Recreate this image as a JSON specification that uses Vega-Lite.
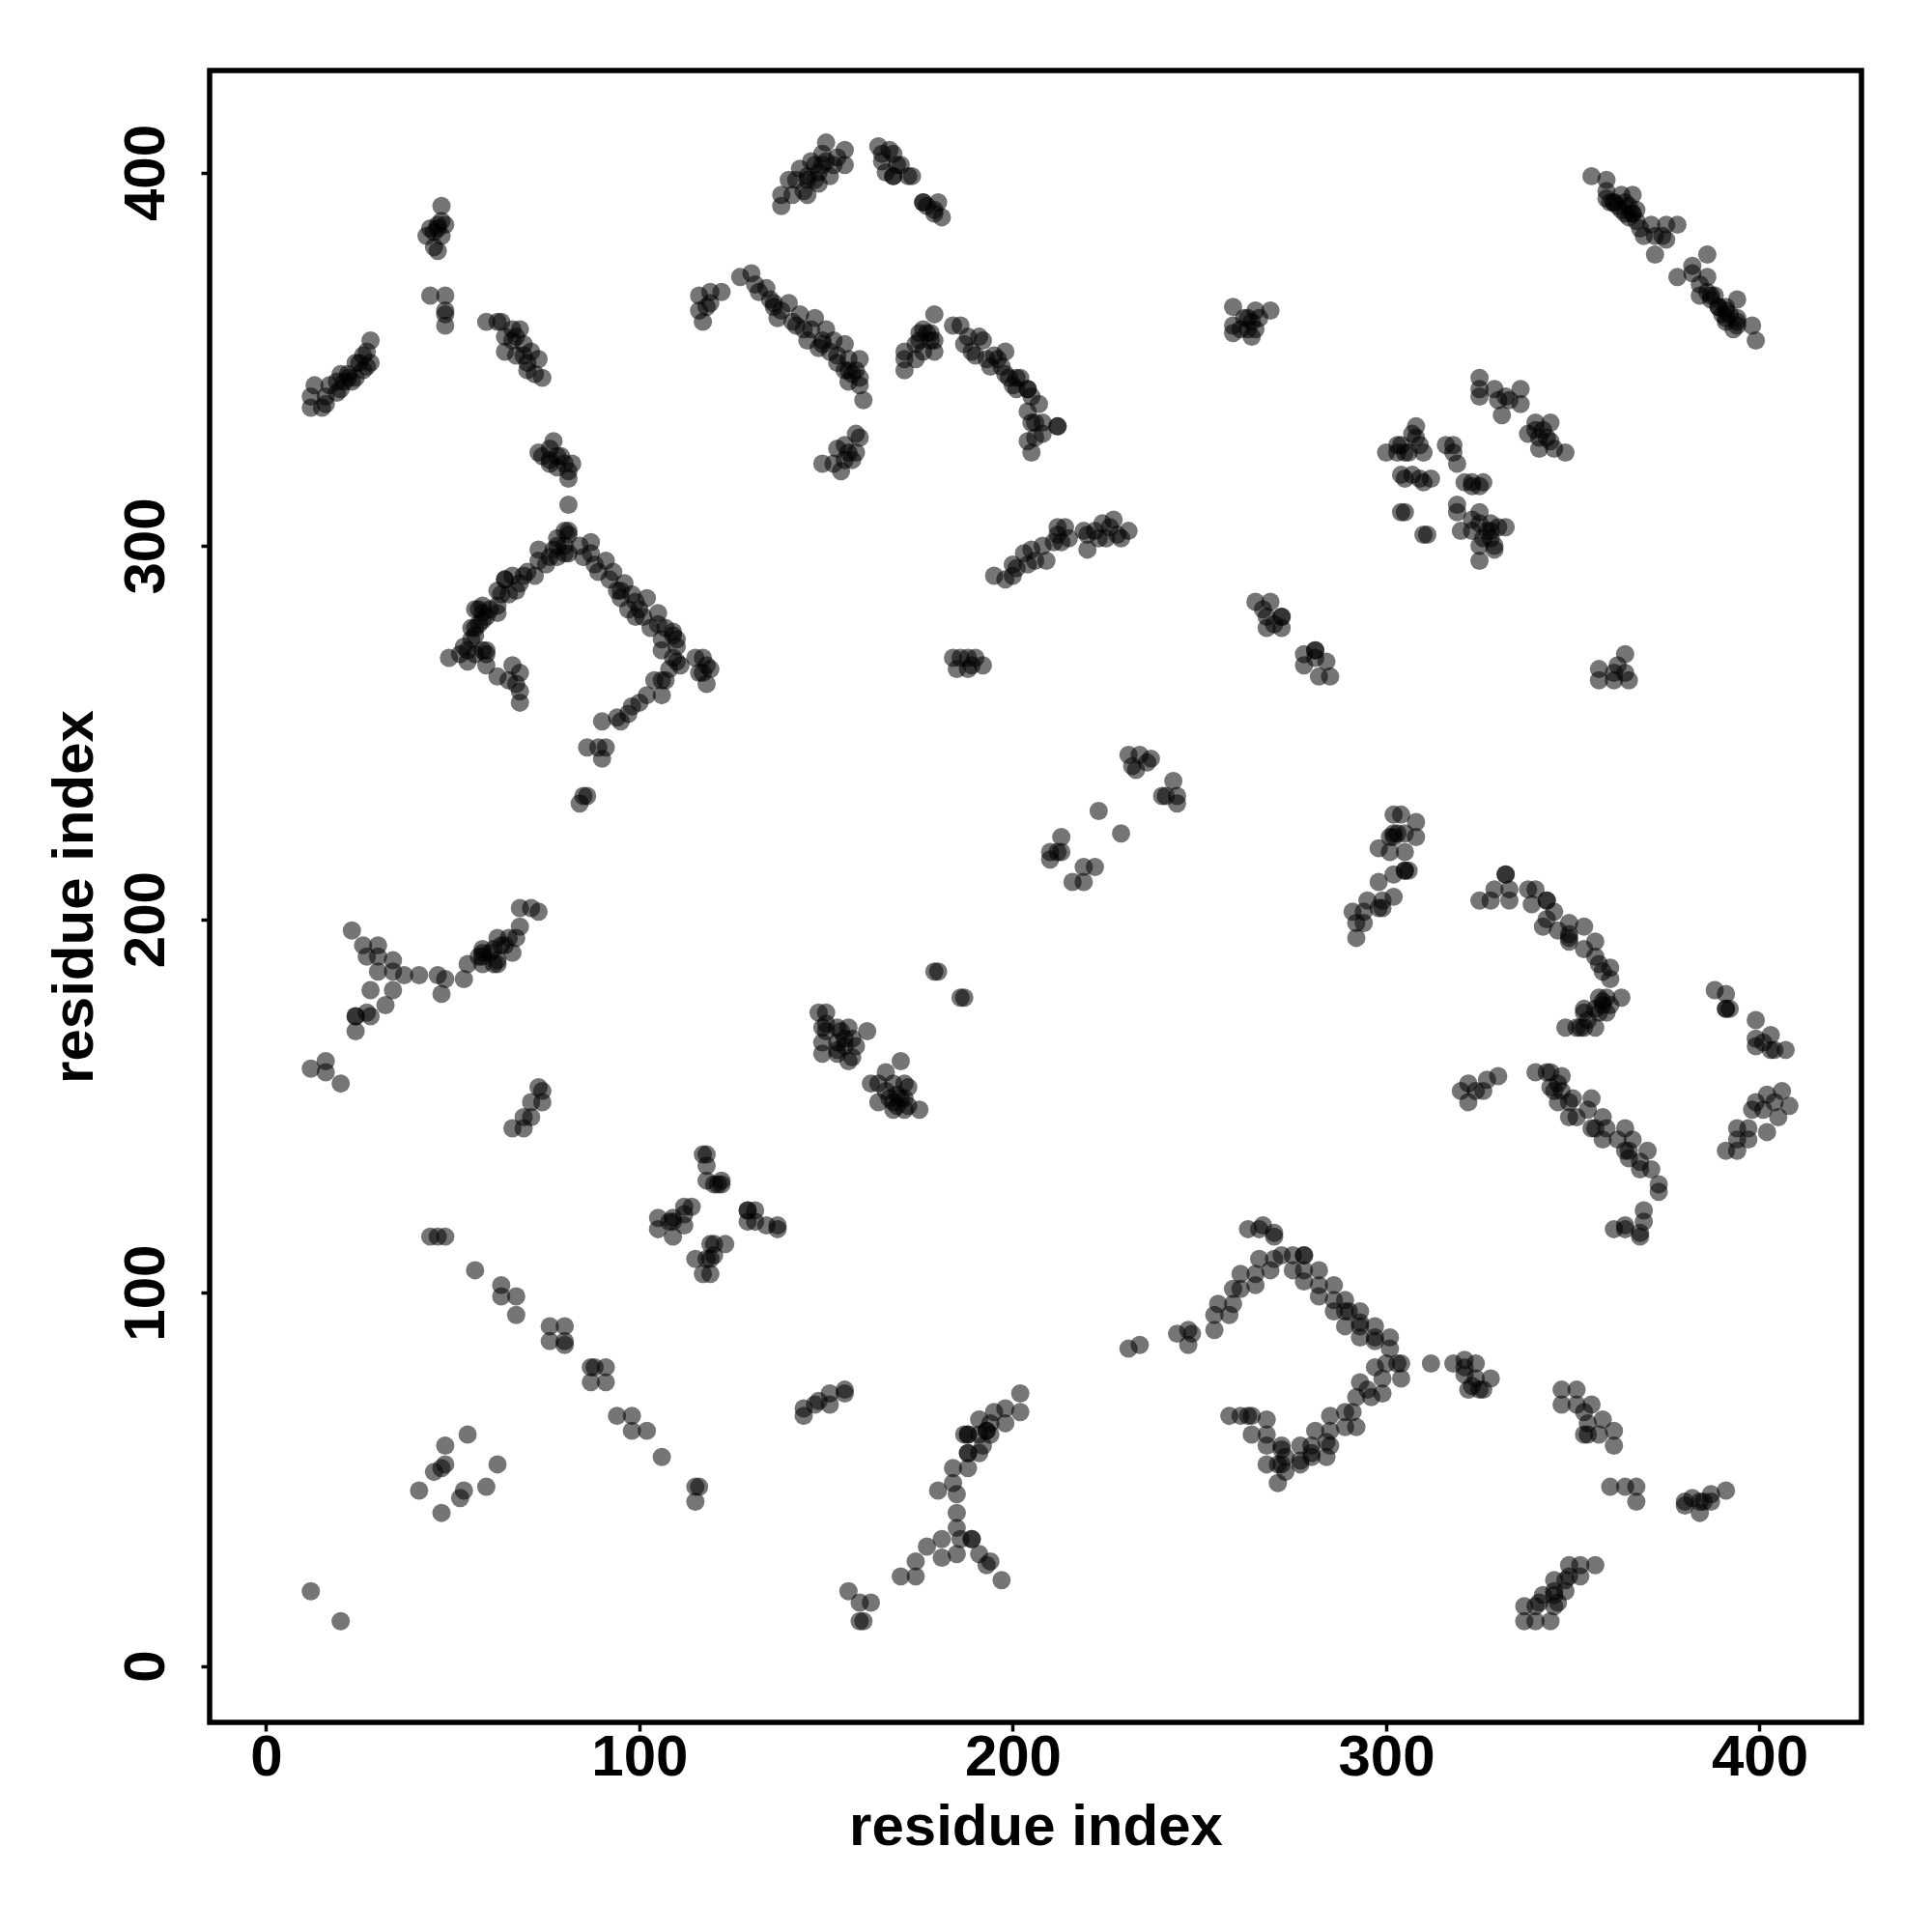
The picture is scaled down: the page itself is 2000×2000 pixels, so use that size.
{"$schema":"https://vega.github.io/schema/vega-lite/v6.json","width":1710,"height":1710,"autosize":{"type":"none"},"padding":{"left":217,"top":73,"right":73,"bottom":217},"background":"white","view":{"stroke":"black","strokeWidth":5.5},"config":{"font":"Liberation Sans"},
"data":{"values":[
{"x":12,"y":337},{"x":12,"y":340},{"x":13,"y":343},{"x":15,"y":337},{"x":16,"y":338},{"x":16,"y":340},{"x":17,"y":343},{"x":19,"y":341},{"x":20,"y":342},{"x":21,"y":344},{"x":22,"y":346},{"x":20,"y":346},{"x":23,"y":344},{"x":24,"y":345},{"x":25,"y":349},{"x":26,"y":347},{"x":27,"y":348},{"x":27,"y":352},{"x":28,"y":355},{"x":28,"y":349},{"x":24,"y":349},{"x":26,"y":351},
{"x":43,"y":383},{"x":45,"y":380},{"x":46,"y":379},{"x":45,"y":384},{"x":46,"y":386},{"x":46,"y":385},{"x":47,"y":387},{"x":48,"y":386},{"x":47,"y":391},{"x":44,"y":385},{"x":47,"y":383},
{"x":44,"y":367},{"x":48,"y":367},{"x":48,"y":363},{"x":48,"y":359},{"x":48,"y":362},
{"x":59,"y":360},{"x":62,"y":360},{"x":63,"y":360},{"x":64,"y":352},{"x":64,"y":356},{"x":66,"y":355},{"x":67,"y":351},{"x":67,"y":356},{"x":68,"y":358},{"x":69,"y":354},{"x":70,"y":349},{"x":70,"y":347},{"x":71,"y":352},{"x":72,"y":346},{"x":73,"y":350},{"x":74,"y":345},{"x":69,"y":351},{"x":66,"y":358},
{"x":73,"y":325},{"x":74,"y":324},{"x":76,"y":326},{"x":77,"y":328},{"x":76,"y":323},{"x":78,"y":321},{"x":79,"y":324},{"x":80,"y":322},{"x":81,"y":320},{"x":81,"y":318},{"x":82,"y":322},{"x":81,"y":311},{"x":78,"y":324},{"x":76,"y":322},
{"x":49,"y":270},{"x":52,"y":271},{"x":53,"y":273},{"x":54,"y":269},{"x":54,"y":272},{"x":55,"y":275},{"x":55,"y":278},{"x":56,"y":276},{"x":56,"y":271},{"x":57,"y":279},{"x":57,"y":283},{"x":58,"y":280},{"x":58,"y":284},{"x":59,"y":281},{"x":59,"y":271},{"x":59,"y":268},{"x":60,"y":283},{"x":62,"y":282},{"x":62,"y":284},{"x":62,"y":265},{"x":63,"y":287},{"x":64,"y":291},{"x":65,"y":287},{"x":65,"y":264},{"x":66,"y":268},{"x":66,"y":292},{"x":67,"y":288},{"x":67,"y":263},{"x":68,"y":290},{"x":68,"y":266},{"x":68,"y":261},{"x":68,"y":258},{"x":69,"y":292},{"x":70,"y":293},{"x":72,"y":292},{"x":73,"y":296},{"x":73,"y":299},{"x":75,"y":295},{"x":76,"y":297},{"x":77,"y":299},{"x":78,"y":302},{"x":78,"y":297},{"x":80,"y":304},{"x":81,"y":298},{"x":81,"y":303},{"x":80,"y":300},{"x":78,"y":300},
{"x":84,"y":300},{"x":85,"y":297},{"x":87,"y":301},{"x":87,"y":298},{"x":88,"y":295},{"x":89,"y":293},{"x":91,"y":296},{"x":92,"y":291},{"x":93,"y":293},{"x":94,"y":288},{"x":95,"y":286},{"x":96,"y":290},{"x":97,"y":283},{"x":98,"y":287},{"x":99,"y":285},{"x":99,"y":281},{"x":101,"y":281},{"x":102,"y":286},{"x":103,"y":278},{"x":105,"y":282},{"x":105,"y":279},{"x":106,"y":275},{"x":106,"y":272},{"x":109,"y":276},{"x":109,"y":277},{"x":110,"y":273},{"x":110,"y":269},
{"x":117,"y":270},{"x":115,"y":270},{"x":118,"y":268},{"x":117,"y":266},{"x":119,"y":267},{"x":118,"y":263},{"x":116,"y":266},{"x":84,"y":231},{"x":85,"y":233},{"x":86,"y":233},{"x":86,"y":246},{"x":90,"y":243},{"x":89,"y":246},{"x":91,"y":246},{"x":90,"y":253},{"x":94,"y":254},{"x":95,"y":253},{"x":97,"y":255},{"x":98,"y":257},{"x":100,"y":258},{"x":102,"y":260},{"x":104,"y":264},{"x":106,"y":260},{"x":106,"y":264},{"x":108,"y":267},{"x":107,"y":264},{"x":111,"y":268},
{"x":138,"y":391},{"x":138,"y":394},{"x":140,"y":398},{"x":141,"y":394},{"x":142,"y":398},{"x":143,"y":401},{"x":144,"y":395},{"x":145,"y":394},{"x":145,"y":399},{"x":146,"y":403},{"x":147,"y":402},{"x":148,"y":400},{"x":149,"y":405},{"x":150,"y":408},{"x":150,"y":403},{"x":151,"y":399},{"x":152,"y":402},{"x":153,"y":404},{"x":155,"y":406},{"x":155,"y":402},{"x":147,"y":398},{"x":148,"y":397},
{"x":164,"y":407},{"x":165,"y":403},{"x":166,"y":400},{"x":165,"y":405},{"x":167,"y":406},{"x":168,"y":399},{"x":169,"y":402},{"x":170,"y":402},{"x":172,"y":399},{"x":168,"y":405},{"x":173,"y":399},{"x":176,"y":392},{"x":177,"y":391},{"x":180,"y":392},{"x":181,"y":388},{"x":179,"y":389},{"x":179,"y":390},
{"x":116,"y":367},{"x":116,"y":363},{"x":117,"y":360},{"x":118,"y":364},{"x":119,"y":368},{"x":119,"y":365},{"x":122,"y":368},{"x":127,"y":372},{"x":130,"y":373},{"x":131,"y":370},{"x":132,"y":368},{"x":134,"y":369},{"x":135,"y":366},{"x":136,"y":364},{"x":137,"y":361},{"x":138,"y":363},{"x":140,"y":365},{"x":141,"y":360},{"x":142,"y":359},{"x":143,"y":362},{"x":145,"y":355},{"x":146,"y":358},{"x":147,"y":361},{"x":148,"y":353},{"x":149,"y":355},{"x":150,"y":358},{"x":151,"y":352},{"x":152,"y":355},{"x":153,"y":349},{"x":155,"y":354},{"x":155,"y":347},{"x":156,"y":350},{"x":157,"y":346},{"x":158,"y":347},{"x":159,"y":350},{"x":159,"y":343},{"x":160,"y":339},{"x":159,"y":345},{"x":156,"y":344},{"x":153,"y":351},
{"x":149,"y":322},{"x":152,"y":322},{"x":153,"y":326},{"x":154,"y":320},{"x":155,"y":327},{"x":156,"y":325},{"x":157,"y":323},{"x":158,"y":325},{"x":159,"y":329},{"x":158,"y":330},{"x":155,"y":323},
{"x":171,"y":347},{"x":171,"y":350},{"x":171,"y":352},{"x":174,"y":350},{"x":174,"y":354},{"x":175,"y":357},{"x":176,"y":352},{"x":177,"y":357},{"x":178,"y":357},{"x":179,"y":355},{"x":179,"y":352},{"x":179,"y":362},{"x":184,"y":359},{"x":186,"y":359},{"x":187,"y":354},{"x":188,"y":356},{"x":189,"y":352},{"x":190,"y":351},{"x":191,"y":356},{"x":192,"y":355},{"x":193,"y":350},{"x":194,"y":348},{"x":195,"y":351},{"x":197,"y":348},{"x":198,"y":352},{"x":198,"y":346},{"x":199,"y":345},{"x":200,"y":343},{"x":201,"y":342},{"x":202,"y":345},{"x":204,"y":342},{"x":205,"y":340},{"x":204,"y":336},{"x":205,"y":333},{"x":204,"y":328},{"x":206,"y":333},{"x":207,"y":338},{"x":208,"y":333},{"x":208,"y":330},{"x":212,"y":332},{"x":205,"y":325},{"x":206,"y":329},
{"x":259,"y":364},{"x":259,"y":357},{"x":259,"y":359},{"x":261,"y":358},{"x":262,"y":361},{"x":263,"y":358},{"x":264,"y":356},{"x":265,"y":363},{"x":265,"y":358},{"x":266,"y":361},{"x":269,"y":363},{"x":263,"y":361},{"x":264,"y":360},
{"x":355,"y":399},{"x":359,"y":398},{"x":359,"y":393},{"x":360,"y":392},{"x":363,"y":394},{"x":364,"y":392},{"x":366,"y":394},{"x":364,"y":389},{"x":367,"y":390},{"x":367,"y":387},{"x":371,"y":386},{"x":368,"y":385},{"x":369,"y":383},{"x":372,"y":383},{"x":375,"y":386},{"x":378,"y":386},{"x":374,"y":383},{"x":372,"y":378},{"x":375,"y":382},{"x":378,"y":372},{"x":382,"y":375},{"x":386,"y":378},{"x":382,"y":373},{"x":384,"y":370},{"x":386,"y":372},{"x":387,"y":367},{"x":387,"y":366},{"x":389,"y":364},{"x":391,"y":364},{"x":394,"y":366},{"x":391,"y":360},{"x":394,"y":361},{"x":394,"y":359},{"x":398,"y":359},{"x":399,"y":355},{"x":384,"y":367},{"x":388,"y":367},{"x":392,"y":362},{"x":361,"y":392},{"x":362,"y":391},{"x":365,"y":388},{"x":366,"y":389},{"x":390,"y":362},{"x":391,"y":361},
{"x":325,"y":345},{"x":325,"y":342},{"x":325,"y":340},{"x":329,"y":342},{"x":330,"y":339},{"x":331,"y":335},{"x":332,"y":340},{"x":333,"y":339},{"x":336,"y":338},{"x":336,"y":342},{"x":338,"y":330},{"x":340,"y":333},{"x":341,"y":329},{"x":341,"y":326},{"x":342,"y":331},{"x":344,"y":333},{"x":344,"y":328},{"x":345,"y":326},{"x":348,"y":325},{"x":340,"y":331},{"x":343,"y":329},
{"x":300,"y":325},{"x":303,"y":325},{"x":304,"y":327},{"x":305,"y":325},{"x":306,"y":325},{"x":307,"y":330},{"x":308,"y":332},{"x":308,"y":329},{"x":309,"y":327},{"x":310,"y":325},{"x":304,"y":319},{"x":305,"y":318},{"x":309,"y":318},{"x":310,"y":317},{"x":307,"y":319},{"x":312,"y":318},{"x":318,"y":327},{"x":319,"y":322},{"x":318,"y":325},{"x":321,"y":317},{"x":323,"y":316},{"x":325,"y":316},{"x":323,"y":317},{"x":326,"y":317},{"x":304,"y":309},{"x":305,"y":309},{"x":310,"y":303},{"x":311,"y":303},{"x":319,"y":311},{"x":319,"y":309},{"x":320,"y":304},{"x":323,"y":304},{"x":325,"y":309},{"x":325,"y":306},{"x":326,"y":302},{"x":327,"y":304},{"x":328,"y":302},{"x":329,"y":300},{"x":325,"y":296},{"x":325,"y":300},{"x":330,"y":305},{"x":332,"y":305},{"x":329,"y":299},{"x":323,"y":307},{"x":328,"y":306},
{"x":195,"y":292},{"x":198,"y":291},{"x":200,"y":292},{"x":200,"y":295},{"x":201,"y":294},{"x":203,"y":298},{"x":204,"y":295},{"x":205,"y":299},{"x":206,"y":296},{"x":208,"y":300},{"x":209,"y":296},{"x":211,"y":301},{"x":212,"y":303},{"x":213,"y":301},{"x":214,"y":305},{"x":215,"y":302},{"x":212,"y":305},{"x":219,"y":304},{"x":220,"y":299},{"x":220,"y":303},{"x":222,"y":304},{"x":223,"y":302},{"x":224,"y":306},{"x":225,"y":302},{"x":227,"y":307},{"x":228,"y":303},{"x":226,"y":305},{"x":229,"y":302},{"x":231,"y":304},
{"x":184,"y":270},{"x":185,"y":267},{"x":186,"y":270},{"x":188,"y":270},{"x":189,"y":268},{"x":192,"y":268},{"x":188,"y":267},{"x":190,"y":270},
{"x":265,"y":285},{"x":269,"y":285},{"x":268,"y":281},{"x":272,"y":281},{"x":272,"y":278},{"x":268,"y":278},{"x":270,"y":279},{"x":267,"y":283},
{"x":278,"y":271},{"x":281,"y":272},{"x":278,"y":268},{"x":281,"y":270},{"x":284,"y":269},{"x":285,"y":265},{"x":282,"y":265},
{"x":357,"y":267},{"x":357,"y":264},{"x":361,"y":264},{"x":361,"y":266},{"x":364,"y":266},{"x":364,"y":271},{"x":365,"y":264},{"x":362,"y":268},
{"x":210,"y":218},{"x":210,"y":216},{"x":213,"y":222},{"x":213,"y":218},{"x":212,"y":218},{"x":216,"y":210},{"x":219,"y":214},{"x":219,"y":210},{"x":222,"y":214},{"x":223,"y":229},{"x":229,"y":223},
{"x":231,"y":244},{"x":234,"y":244},{"x":232,"y":241},{"x":236,"y":242},{"x":237,"y":243},{"x":233,"y":240},{"x":241,"y":233},{"x":243,"y":237},{"x":244,"y":233},{"x":244,"y":231},{"x":240,"y":233},
{"x":292,"y":195},{"x":291,"y":202},{"x":294,"y":199},{"x":292,"y":199},{"x":295,"y":205},{"x":298,"y":203},{"x":299,"y":205},{"x":299,"y":203},{"x":298,"y":210},{"x":302,"y":206},{"x":302,"y":212},{"x":305,"y":213},{"x":298,"y":219},{"x":301,"y":222},{"x":301,"y":218},{"x":305,"y":223},{"x":302,"y":228},{"x":304,"y":228},{"x":308,"y":226},{"x":308,"y":222},{"x":303,"y":223},{"x":305,"y":218},{"x":306,"y":213},
{"x":325,"y":205},{"x":328,"y":205},{"x":332,"y":212},{"x":329,"y":208},{"x":333,"y":205},{"x":333,"y":208},{"x":338,"y":208},{"x":339,"y":204},{"x":343,"y":205},{"x":340,"y":208},{"x":342,"y":198},{"x":343,"y":200},{"x":345,"y":202},{"x":346,"y":197},{"x":349,"y":196},{"x":349,"y":194},{"x":353,"y":198},{"x":349,"y":199},{"x":353,"y":192},{"x":356,"y":194},{"x":356,"y":190},{"x":357,"y":188},{"x":360,"y":187},{"x":360,"y":184},{"x":358,"y":186},
{"x":348,"y":171},{"x":352,"y":171},{"x":356,"y":171},{"x":353,"y":176},{"x":356,"y":176},{"x":357,"y":179},{"x":359,"y":179},{"x":363,"y":179},{"x":359,"y":175},{"x":354,"y":173},{"x":358,"y":178},{"x":357,"y":175},{"x":353,"y":171},
{"x":388,"y":181},{"x":391,"y":180},{"x":392,"y":176},{"x":399,"y":173},{"x":399,"y":168},{"x":399,"y":166},{"x":403,"y":169},{"x":403,"y":165},{"x":407,"y":165},{"x":404,"y":165},{"x":401,"y":167},{"x":391,"y":176},
{"x":391,"y":138},{"x":394,"y":138},{"x":394,"y":144},{"x":397,"y":141},{"x":397,"y":144},{"x":398,"y":149},{"x":402,"y":143},{"x":401,"y":149},{"x":402,"y":153},{"x":405,"y":147},{"x":406,"y":154},{"x":408,"y":150},{"x":404,"y":151},
{"x":320,"y":154},{"x":322,"y":151},{"x":322,"y":156},{"x":326,"y":154},{"x":327,"y":157},{"x":330,"y":158},{"x":324,"y":154},
{"x":340,"y":159},{"x":344,"y":159},{"x":347,"y":158},{"x":344,"y":155},{"x":347,"y":154},{"x":346,"y":151},{"x":349,"y":151},{"x":350,"y":152},{"x":346,"y":156},{"x":351,"y":147},{"x":354,"y":149},{"x":355,"y":152},{"x":355,"y":144},{"x":358,"y":147},{"x":359,"y":144},{"x":358,"y":141},{"x":362,"y":141},{"x":364,"y":144},{"x":364,"y":138},{"x":366,"y":141},{"x":368,"y":133},{"x":370,"y":138},{"x":371,"y":133},{"x":373,"y":129},{"x":373,"y":127},{"x":368,"y":135},{"x":365,"y":136},
{"x":361,"y":117},{"x":364,"y":117},{"x":368,"y":116},{"x":364,"y":118},{"x":369,"y":119},{"x":369,"y":122},{"x":368,"y":115},
{"x":44,"y":115},{"x":46,"y":115},{"x":48,"y":115},{"x":56,"y":106},{"x":63,"y":102},{"x":63,"y":99},{"x":67,"y":99},{"x":67,"y":94},{"x":76,"y":91},{"x":76,"y":87},{"x":80,"y":91},{"x":80,"y":86},{"x":87,"y":80},{"x":87,"y":76},{"x":91,"y":80},{"x":91,"y":76},{"x":94,"y":67},{"x":98,"y":67},{"x":98,"y":63},{"x":102,"y":63},{"x":106,"y":56},{"x":115,"y":48},{"x":115,"y":44},{"x":116,"y":48},{"x":80,"y":87},{"x":88,"y":80},
{"x":12,"y":160},{"x":16,"y":162},{"x":16,"y":159},{"x":20,"y":156},
{"x":23,"y":197},{"x":26,"y":193},{"x":27,"y":190},{"x":30,"y":193},{"x":30,"y":190},{"x":34,"y":189},{"x":34,"y":186},{"x":30,"y":186},{"x":34,"y":181},{"x":28,"y":181},{"x":32,"y":177},{"x":27,"y":175},{"x":24,"y":174},{"x":28,"y":174},{"x":24,"y":170},{"x":37,"y":185},{"x":41,"y":185},{"x":46,"y":185},{"x":47,"y":180},{"x":48,"y":184},{"x":53,"y":184},{"x":54,"y":188},{"x":58,"y":192},{"x":58,"y":188},{"x":62,"y":188},{"x":62,"y":195},{"x":61,"y":192},{"x":66,"y":191},{"x":65,"y":195},{"x":68,"y":198},{"x":67,"y":195},{"x":68,"y":203},{"x":73,"y":202},{"x":71,"y":203},{"x":58,"y":191},{"x":64,"y":193},{"x":57,"y":190},
{"x":66,"y":144},{"x":69,"y":144},{"x":69,"y":147},{"x":71,"y":151},{"x":71,"y":147},{"x":74,"y":151},{"x":74,"y":154},{"x":73,"y":155},
{"x":148,"y":175},{"x":150,"y":175},{"x":149,"y":171},{"x":149,"y":167},{"x":153,"y":171},{"x":153,"y":167},{"x":149,"y":164},{"x":156,"y":171},{"x":155,"y":166},{"x":156,"y":162},{"x":158,"y":166},{"x":161,"y":170},{"x":157,"y":168},{"x":153,"y":164},{"x":162,"y":156},{"x":164,"y":156},{"x":164,"y":151},{"x":166,"y":159},{"x":170,"y":162},{"x":168,"y":151},{"x":168,"y":156},{"x":171,"y":156},{"x":171,"y":152},{"x":168,"y":149},{"x":171,"y":149},{"x":175,"y":149},{"x":169,"y":153},{"x":166,"y":154},{"x":167,"y":152},
{"x":179,"y":186},{"x":180,"y":186},{"x":186,"y":179},{"x":187,"y":179},
{"x":105,"y":120},{"x":105,"y":117},{"x":109,"y":120},{"x":109,"y":115},{"x":112,"y":123},{"x":114,"y":123},{"x":112,"y":118},{"x":109,"y":119},{"x":118,"y":137},{"x":118,"y":134},{"x":118,"y":130},{"x":121,"y":129},{"x":122,"y":129},{"x":115,"y":109},{"x":117,"y":105},{"x":119,"y":105},{"x":120,"y":110},{"x":119,"y":113},{"x":123,"y":113},{"x":119,"y":109},{"x":129,"y":122},{"x":131,"y":122},{"x":129,"y":119},{"x":131,"y":119},{"x":134,"y":118},{"x":137,"y":118},{"x":137,"y":117},
{"x":144,"y":67},{"x":144,"y":69},{"x":147,"y":70},{"x":151,"y":70},{"x":151,"y":73},{"x":155,"y":74},{"x":155,"y":73},{"x":148,"y":71},
{"x":197,"y":23},{"x":194,"y":28},{"x":191,"y":30},{"x":193,"y":27},{"x":189,"y":34},{"x":186,"y":34},{"x":185,"y":30},{"x":181,"y":29},{"x":181,"y":34},{"x":177,"y":32},{"x":174,"y":28},{"x":170,"y":24},{"x":174,"y":24},{"x":185,"y":41},{"x":185,"y":37},{"x":185,"y":46},{"x":180,"y":47},{"x":184,"y":53},{"x":184,"y":49},{"x":188,"y":53},{"x":188,"y":57},{"x":187,"y":62},{"x":191,"y":57},{"x":191,"y":62},{"x":191,"y":66},{"x":194,"y":62},{"x":194,"y":65},{"x":198,"y":65},{"x":195,"y":68},{"x":198,"y":69},{"x":202,"y":68},{"x":202,"y":73},{"x":188,"y":62},{"x":192,"y":59},{"x":193,"y":63},
{"x":156,"y":20},{"x":159,"y":12},{"x":159,"y":17},{"x":162,"y":17},{"x":160,"y":12},
{"x":12,"y":20},{"x":20,"y":12},{"x":41,"y":47},{"x":45,"y":52},{"x":47,"y":53},{"x":48,"y":54},{"x":48,"y":59},{"x":47,"y":41},{"x":52,"y":45},{"x":53,"y":47},{"x":54,"y":62},{"x":59,"y":48},{"x":62,"y":54},
{"x":231,"y":85},{"x":234,"y":86},{"x":244,"y":89},{"x":247,"y":90},{"x":248,"y":89},{"x":247,"y":86},{"x":254,"y":90},{"x":254,"y":94},{"x":255,"y":97},{"x":258,"y":94},{"x":259,"y":97},{"x":259,"y":101},{"x":261,"y":101},{"x":261,"y":105},{"x":265,"y":102},{"x":265,"y":105},{"x":269,"y":106},{"x":266,"y":109},{"x":270,"y":109},{"x":263,"y":117},{"x":267,"y":118},{"x":266,"y":117},{"x":270,"y":116},{"x":270,"y":115},{"x":272,"y":110},{"x":275,"y":110},{"x":275,"y":106},{"x":278,"y":110},{"x":278,"y":106},{"x":278,"y":103},{"x":282,"y":106},{"x":282,"y":102},{"x":282,"y":99},{"x":286,"y":102},{"x":286,"y":98},{"x":286,"y":95},{"x":289,"y":98},{"x":289,"y":95},{"x":289,"y":91},{"x":293,"y":95},{"x":293,"y":92},{"x":293,"y":88},{"x":297,"y":91},{"x":297,"y":88},{"x":297,"y":87},{"x":301,"y":88},{"x":301,"y":85},{"x":304,"y":81},{"x":304,"y":77},{"x":300,"y":81},{"x":297,"y":80},{"x":299,"y":77},{"x":299,"y":73},{"x":296,"y":72},{"x":293,"y":76},{"x":292,"y":72},{"x":295,"y":74},{"x":291,"y":68},{"x":289,"y":68},{"x":292,"y":64},{"x":289,"y":64},{"x":285,"y":67},{"x":285,"y":63},{"x":281,"y":63},{"x":285,"y":59},{"x":284,"y":56},{"x":280,"y":59},{"x":280,"y":56},{"x":277,"y":59},{"x":277,"y":55},{"x":277,"y":54},{"x":273,"y":56},{"x":272,"y":59},{"x":268,"y":59},{"x":268,"y":54},{"x":271,"y":49},{"x":273,"y":52},{"x":271,"y":54},{"x":268,"y":66},{"x":268,"y":62},{"x":264,"y":62},{"x":264,"y":67},{"x":258,"y":67},{"x":261,"y":67},{"x":263,"y":67},
{"x":312,"y":81},{"x":318,"y":81},{"x":321,"y":82},{"x":324,"y":81},{"x":321,"y":78},{"x":322,"y":74},{"x":324,"y":77},{"x":325,"y":74},{"x":328,"y":77},{"x":326,"y":74},
{"x":347,"y":74},{"x":351,"y":74},{"x":347,"y":70},{"x":351,"y":70},{"x":355,"y":70},{"x":353,"y":68},{"x":353,"y":62},{"x":358,"y":66},{"x":354,"y":65},{"x":357,"y":62},{"x":361,"y":63},{"x":361,"y":59},{"x":354,"y":62},
{"x":360,"y":48},{"x":364,"y":48},{"x":367,"y":48},{"x":367,"y":44},
{"x":337,"y":16},{"x":337,"y":12},{"x":340,"y":16},{"x":340,"y":12},{"x":342,"y":19},{"x":344,"y":12},{"x":345,"y":16},{"x":345,"y":23},{"x":345,"y":19},{"x":348,"y":20},{"x":348,"y":23},{"x":352,"y":24},{"x":349,"y":27},{"x":352,"y":27},{"x":356,"y":27},
{"x":380,"y":44},{"x":380,"y":43},{"x":384,"y":44},{"x":384,"y":41},{"x":387,"y":46},{"x":387,"y":44},{"x":391,"y":47},{"x":382,"y":45},{"x":385,"y":44},
{"x":19,"y":344},{"x":22,"y":345},{"x":145,"y":398},{"x":149,"y":402},{"x":168,"y":399},{"x":176,"y":392},{"x":136,"y":365},{"x":144,"y":358},{"x":149,"y":354},{"x":156,"y":347},{"x":176,"y":358},{"x":175,"y":355},{"x":178,"y":355},{"x":196,"y":350},{"x":204,"y":342},{"x":201,"y":345},{"x":212,"y":332},{"x":361,"y":392},{"x":366,"y":389},{"x":359,"y":395},{"x":363,"y":390},{"x":365,"y":391},{"x":389,"y":364},{"x":394,"y":360},{"x":386,"y":368},{"x":391,"y":363},{"x":393,"y":358},{"x":56,"y":278},{"x":56,"y":283},{"x":59,"y":272},{"x":64,"y":291},{"x":62,"y":288},{"x":58,"y":282},{"x":81,"y":304},{"x":80,"y":298},{"x":95,"y":288},{"x":100,"y":283},{"x":107,"y":278},{"x":110,"y":275},{"x":109,"y":270},{"x":58,"y":272},{"x":272,"y":281},{"x":281,"y":272},{"x":302,"y":223},{"x":305,"y":213},{"x":294,"y":202},{"x":302,"y":222},{"x":332,"y":212},{"x":343,"y":205},{"x":349,"y":195},{"x":353,"y":175},{"x":358,"y":177},{"x":360,"y":177},{"x":351,"y":171},{"x":391,"y":176},{"x":343,"y":159},{"x":349,"y":147},{"x":356,"y":144},{"x":365,"y":138},{"x":345,"y":154},{"x":399,"y":151},{"x":394,"y":141},{"x":150,"y":170},{"x":155,"y":168},{"x":153,"y":165},{"x":157,"y":163},{"x":150,"y":172},{"x":154,"y":170},{"x":169,"y":150},{"x":172,"y":155},{"x":170,"y":152},{"x":172,"y":150},{"x":58,"y":190},{"x":61,"y":188},{"x":60,"y":191},{"x":62,"y":189},{"x":63,"y":193},{"x":24,"y":174},{"x":117,"y":137},{"x":120,"y":129},{"x":122,"y":130},{"x":112,"y":121},{"x":108,"y":119},{"x":120,"y":113},{"x":118,"y":109},{"x":129,"y":122},{"x":188,"y":62},{"x":188,"y":57},{"x":193,"y":63},{"x":189,"y":34},{"x":272,"y":58},{"x":272,"y":54},{"x":280,"y":57},{"x":284,"y":60},{"x":278,"y":110},{"x":303,"y":81},{"x":290,"y":95},{"x":293,"y":91},{"x":346,"y":17},{"x":345,"y":20},{"x":341,"y":17},{"x":349,"y":24},{"x":321,"y":80},{"x":323,"y":75},{"x":303,"y":327},{"x":316,"y":327},{"x":328,"y":304}
]},
"mark":{"type":"point","filled":true,"shape":"circle","size":360,"color":"black","opacity":0.54,"strokeWidth":0},
"encoding":{
"x":{"field":"x","type":"quantitative","scale":{"domain":[-15.1,427.3],"nice":false,"zero":false},"axis":{"title":"residue index","values":[0,100,200,300,400],"grid":false,"domain":false,"tickColor":"black","tickWidth":3.5,"tickSize":9,"labelFont":"Liberation Sans","labelFontWeight":"bold","labelFontSize":60,"labelColor":"black","labelPadding":-2,"titleFont":"Liberation Sans","titleFontWeight":"bold","titleFontSize":60,"titleColor":"black","titlePadding":13}},
"y":{"field":"y","type":"quantitative","scale":{"domain":[-15.1,427.3],"nice":false,"zero":false},"axis":{"title":"residue index","values":[0,100,200,300,400],"grid":false,"domain":false,"tickColor":"black","tickWidth":3.5,"tickSize":9,"labelAngle":-90,"labelAlign":"center","labelBaseline":"bottom","labelFont":"Liberation Sans","labelFontWeight":"bold","labelFontSize":60,"labelColor":"black","labelPadding":26,"titleFont":"Liberation Sans","titleFontWeight":"bold","titleFontSize":60,"titleColor":"black","titlePadding":13}}
}}
